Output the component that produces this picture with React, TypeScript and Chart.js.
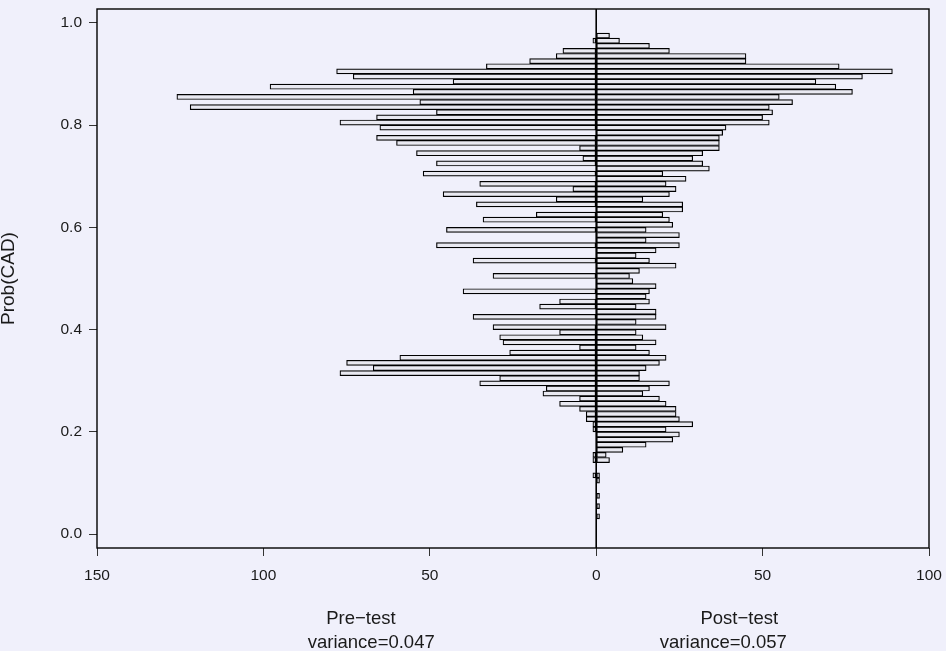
import React, { useEffect, useRef } from 'react';
import { Chart, registerables } from 'chart.js';

Chart.register(...registerables);

// Lower edge of each Prob(CAD) bin (bin width 0.01)
const binStarts = [
  0.00, 0.01, 0.02, 0.03, 0.04, 0.05, 0.06, 0.07, 0.08, 0.09,
  0.10, 0.11, 0.12, 0.13, 0.14, 0.15, 0.16, 0.17, 0.18, 0.19,
  0.20, 0.21, 0.22, 0.23, 0.24, 0.25, 0.26, 0.27, 0.28, 0.29,
  0.30, 0.31, 0.32, 0.33, 0.34, 0.35, 0.36, 0.37, 0.38, 0.39,
  0.40, 0.41, 0.42, 0.43, 0.44, 0.45, 0.46, 0.47, 0.48, 0.49,
  0.50, 0.51, 0.52, 0.53, 0.54, 0.55, 0.56, 0.57, 0.58, 0.59,
  0.60, 0.61, 0.62, 0.63, 0.64, 0.65, 0.66, 0.67, 0.68, 0.69,
  0.70, 0.71, 0.72, 0.73, 0.74, 0.75, 0.76, 0.77, 0.78, 0.79,
  0.80, 0.81, 0.82, 0.83, 0.84, 0.85, 0.86, 0.87, 0.88, 0.89,
  0.90, 0.91, 0.92, 0.93, 0.94, 0.95, 0.96, 0.97, 0.98, 0.99,
];
const binWidth = 0.01;

// Pre-test counts per bin (drawn to the left)
const preTest = [
  0, 0, 0, 0, 0, 0, 0, 0, 0, 0,
  0, 1, 0, 0, 1, 1, 0, 0, 0, 0,
  1, 1, 3, 3, 5, 11, 5, 16, 15, 35,
  29, 77, 67, 75, 59, 26, 5, 28, 29, 11,
  31, 0, 37, 0, 17, 11, 0, 40, 0, 0,
  31, 0, 0, 37, 0, 0, 48, 0, 0, 45,
  0, 34, 18, 0, 36, 12, 46, 7, 35, 0,
  52, 0, 48, 4, 54, 5, 60, 66, 0, 65,
  77, 66, 48, 122, 53, 126, 55, 98, 43, 73,
  78, 33, 20, 12, 10, 0, 1, 0, 0, 0,
];

// Post-test counts per bin (drawn to the right)
const postTest = [
  0, 0, 0, 1, 0, 1, 0, 1, 0, 0,
  1, 1, 0, 0, 4, 3, 8, 15, 23, 25,
  21, 29, 25, 24, 24, 21, 19, 14, 16, 22,
  13, 13, 15, 19, 21, 16, 12, 18, 14, 12,
  21, 12, 18, 18, 12, 16, 15, 16, 18, 11,
  10, 13, 24, 16, 12, 18, 25, 15, 25, 15,
  23, 22, 20, 26, 26, 14, 22, 24, 21, 27,
  20, 34, 32, 29, 32, 37, 37, 37, 38, 39,
  52, 50, 53, 52, 59, 55, 77, 72, 66, 80,
  89, 73, 45, 45, 22, 16, 7, 4, 0, 0,
];

const xTickValues = [-150, -100, -50, 0, 50, 100];
const yTickValues = [0, 0.2, 0.4, 0.6, 0.8, 1.0];
const yAxisTitle = 'Prob(CAD)';
const preTitle = ['Pre\u2212test', 'variance=0.047'];
const postTitle = ['Post\u2212test', 'variance=0.057'];

const FONT = '"Liberation Sans", Arial, Helvetica, sans-serif';
const BG = '#f0f0fb';
const TEXT = '#1a1a1a';

const frameAndLabels = {
  id: 'frameAndLabels',
  afterDatasetsDraw(chart: any) {
    const { ctx, chartArea, scales } = chart;
    const x0 = scales.x.getPixelForValue(0);
    ctx.save();
    ctx.strokeStyle = '#000';
    ctx.lineWidth = 1.6;
    ctx.beginPath();
    ctx.moveTo(x0, chartArea.top);
    ctx.lineTo(x0, chartArea.bottom);
    ctx.stroke();
    ctx.lineWidth = 1.4;
    ctx.strokeRect(chartArea.left, chartArea.top, chartArea.right - chartArea.left, chartArea.bottom - chartArea.top);
    ctx.restore();
  },
  afterDraw(chart: any) {
    const { ctx, chartArea, scales } = chart;
    ctx.save();
    ctx.fillStyle = TEXT;
    ctx.font = `18.5px ${FONT}`;
    ctx.textAlign = 'center';
    ctx.textBaseline = 'alphabetic';
    const b = chartArea.bottom;
    ctx.fillText(preTitle[0], scales.x.getPixelForValue(-70.7), b + 76);
    ctx.fillText(preTitle[1], scales.x.getPixelForValue(-67.6), b + 100);
    ctx.fillText(postTitle[0], scales.x.getPixelForValue(43.0), b + 76);
    ctx.fillText(postTitle[1], scales.x.getPixelForValue(38.2), b + 100);
    ctx.restore();
  },
};

const zeroPadding = (s: any) => {
  s.paddingTop = 0;
  s.paddingBottom = 0;
  s.paddingLeft = 0;
  s.paddingRight = 0;
};

export default function App() {
  const canvasRef = useRef<HTMLCanvasElement | null>(null);

  useEffect(() => {
    document.body.style.margin = '0';
    document.body.style.background = BG;
    const canvas = canvasRef.current;
    if (!canvas) return;

    const preData = binStarts
      .map((s, i) => ({ x: -preTest[i], y: s + binWidth / 2 }))
      .filter((p) => p.x !== 0);
    const postData = binStarts
      .map((s, i) => ({ x: postTest[i], y: s + binWidth / 2 }))
      .filter((p) => p.x !== 0);

    const barStyle = {
      backgroundColor: '#e9e9f1',
      borderColor: '#000000',
      borderWidth: 1.2,
      borderSkipped: false,
      grouped: false,
      barPercentage: 1,
      categoryPercentage: 1,
    };

    const chart = new Chart(canvas, {
      type: 'bar',
      data: {
        datasets: [
          { label: 'Pre-test', data: preData, ...barStyle } as any,
          { label: 'Post-test', data: postData, ...barStyle } as any,
        ],
      },
      options: {
        indexAxis: 'y',
        responsive: false,
        animation: false,
        devicePixelRatio: 1,
        layout: { padding: { left: 0, top: 9, right: 17, bottom: 0 } },
        plugins: {
          legend: { display: false },
          tooltip: { enabled: false },
        },
        scales: {
          x: {
            type: 'linear',
            position: 'bottom',
            min: -150,
            max: 100,
            afterBuildTicks: (s: any) => {
              s.ticks = xTickValues.map((v) => ({ value: v }));
            },
            afterFit: (s: any) => {
              s.height = 103;
              zeroPadding(s);
            },
            ticks: {
              callback: (v: any) => String(Math.abs(Number(v))),
              color: TEXT,
              font: { family: FONT, size: 15.5 },
              padding: 10,
              maxRotation: 0,
              autoSkip: false,
            },
            grid: {
              display: true,
              drawOnChartArea: false,
              drawTicks: true,
              tickLength: 8,
              tickColor: '#333333',
              tickWidth: 1,
            },
            border: { display: false },
          },
          y: {
            type: 'linear',
            position: 'left',
            min: -0.027,
            max: 1.027,
            offset: false,
            afterBuildTicks: (s: any) => {
              s.ticks = yTickValues.map((v) => ({ value: v }));
            },
            afterFit: (s: any) => {
              s.width = 97;
              zeroPadding(s);
            },
            ticks: {
              callback: (v: any) => Number(v).toFixed(1),
              color: TEXT,
              font: { family: FONT, size: 15.5 },
              padding: 7,
              autoSkip: false,
            },
            grid: {
              display: true,
              offset: false,
              drawOnChartArea: false,
              drawTicks: true,
              tickLength: 8,
              tickColor: '#333333',
              tickWidth: 1,
            },
            border: { display: false },
            title: {
              display: true,
              text: yAxisTitle,
              color: TEXT,
              font: { family: FONT, size: 19, lineHeight: 0.9 },
              padding: { top: 0, bottom: 0 },
            },
          },
        },
      },
      plugins: [frameAndLabels],
    } as any);

    return () => chart.destroy();
  }, []);

  return (
    <div style={{ width: 946, height: 651, background: BG }}>
      <canvas ref={canvasRef} width={946} height={651} style={{ display: 'block' }} />
    </div>
  );
}
